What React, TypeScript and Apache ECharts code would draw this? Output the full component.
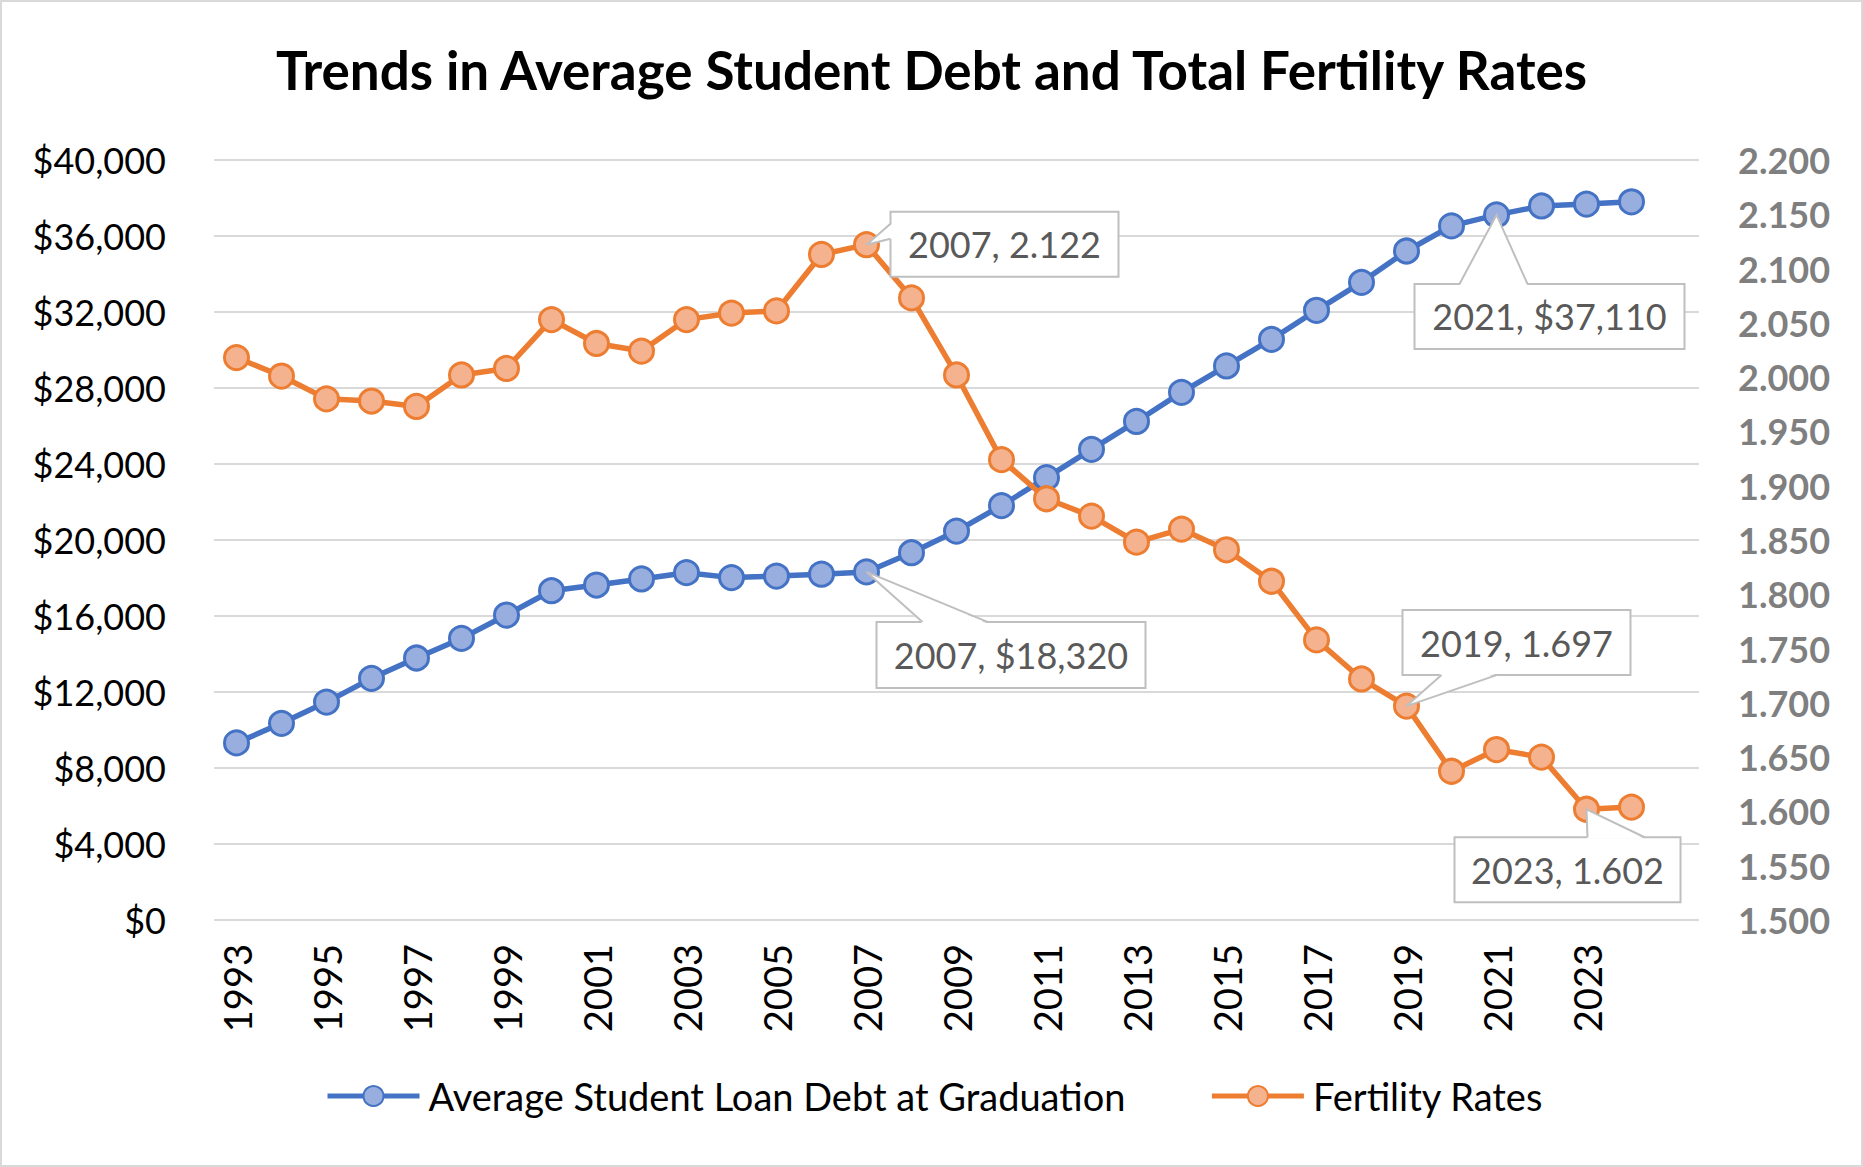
import React, { useEffect, useRef } from "react";
import * as echarts from "echarts";

const years = [
  1993, 1994, 1995, 1996, 1997, 1998, 1999, 2000, 2001, 2002, 2003, 2004, 2005, 2006, 2007, 2008,
  2009, 2010, 2011, 2012, 2013, 2014, 2015, 2016, 2017, 2018, 2019, 2020, 2021, 2022, 2023, 2024,
];

const debt = [
  9320, 10350, 11470, 12720, 13790, 14820, 16050, 17330, 17630, 17950, 18280, 18020, 18100, 18200,
  18320, 19330, 20470, 21810, 23280, 24770, 26240, 27770, 29160, 30560, 32090, 33560, 35210, 36530,
  37110, 37580, 37680, 37800,
];

const fertility = [
  2.018, 2.001, 1.98, 1.978, 1.973, 2.002, 2.008, 2.053, 2.031, 2.024, 2.053, 2.059, 2.061, 2.113,
  2.122, 2.073, 2.002, 1.924, 1.888, 1.872, 1.848, 1.86, 1.841, 1.812, 1.758, 1.722, 1.697, 1.637,
  1.657, 1.65, 1.602, 1.604,
];

const debtTicks = { min: 0, max: 40000, interval: 4000 };
const fertTicks = { min: 1.5, max: 2.2, interval: 0.05 };

const debtLabelYears = [2007, 2021];
const fertLabelYears = [2007, 2019, 2023];

const TITLE = "Trends in Average Student Debt and Total Fertility Rates";
const DEBT_NAME = "Average Student Loan Debt at Graduation";
const FERT_NAME = "Fertility Rates";

// callout box layout, relative to the labelled point (pixels)
const calloutLayout: Record<string, any> = {
  "debt-2007": { bx: 10, by: 50, w: 269, h: 66, side: "top", a: 56, b: 121 },
  "debt-2021": { bx: -82, by: 69, w: 270, h: 65, side: "top", a: -37, b: 31 },
  "fert-2007": { bx: 24, by: -33, w: 228, h: 65, side: "left", a: -21, b: -6 },
  "fert-2019": { bx: -4, by: -96, w: 228, h: 65, side: "bottom", a: 35, b: 90 },
  "fert-2023": { bx: -132, by: 28, w: 226, h: 65, side: "top", a: 1, b: 58 },
};

const FONT = "Lato, 'Open Sans', sans-serif";

const fmtMoney = (v: number) => "$" + v.toLocaleString("en-US");

function calloutSeries(key: string, yAxisIndex: number, labelYears: number[], values: number[], fmt: (v: number) => string) {
  const data = labelYears.map((y) => {
    const i = years.indexOf(y);
    return [i, values[i], y];
  });
  return {
    type: "custom",
    name: key + "-callouts",
    yAxisIndex,
    z: 10,
    clip: false,
    silent: true,
    data,
    renderItem: (params: any, api: any) => {
      const idx = api.value(0);
      const val = api.value(1);
      const yr = api.value(2);
      const p = api.coord([idx, val]);
      const L = calloutLayout[key + "-" + yr];
      const x0 = p[0] + L.bx;
      const y0 = p[1] + L.by;
      let b1: number[], b2: number[], c1: number[], c2: number[];
      if (L.side === "top") {
        b1 = [p[0] + L.a, y0];
        b2 = [p[0] + L.b, y0];
        c1 = [b1[0], y0 + 1.5];
        c2 = [b2[0], y0 + 1.5];
      } else if (L.side === "bottom") {
        b1 = [p[0] + L.a, y0 + L.h];
        b2 = [p[0] + L.b, y0 + L.h];
        c1 = [b1[0], y0 + L.h - 1.5];
        c2 = [b2[0], y0 + L.h - 1.5];
      } else {
        b1 = [x0, p[1] + L.a];
        b2 = [x0, p[1] + L.b];
        c1 = [x0 + 1.5, b1[1]];
        c2 = [x0 + 1.5, b2[1]];
      }
      return {
        type: "group",
        children: [
          {
            type: "rect",
            shape: { x: x0, y: y0, width: L.w, height: L.h },
            style: { fill: "#ffffff", stroke: "#bfbfbf", lineWidth: 2 },
          },
          {
            type: "polygon",
            shape: { points: [p, c1, c2] },
            style: { fill: "#ffffff", stroke: null },
          },
          {
            type: "polyline",
            shape: { points: [b1, p, b2] },
            style: { fill: null, stroke: "#bfbfbf", lineWidth: 2 },
          },
          {
            type: "text",
            style: {
              text: yr + ", " + fmt(val),
              x: x0 + L.w / 2,
              y: y0 + L.h / 2,
              align: "center",
              verticalAlign: "middle",
              fill: "#595959",
              fontSize: 36,
              fontFamily: FONT,
            },
          },
        ],
      };
    },
  };
}

export default function App() {
  const ref = useRef<HTMLDivElement>(null);
  useEffect(() => {
    document.body.style.margin = "0";
    if (!ref.current) return;
    const chart = echarts.init(ref.current, undefined, { renderer: "svg" });
    const option: any = {
      animation: false,
      backgroundColor: "#ffffff",
      textStyle: { fontFamily: FONT },
      title: {
        text: TITLE,
        left: "center",
        top: 38,
        textStyle: { fontSize: 53, fontWeight: "bold", color: "#000000", fontFamily: FONT },
      },
      graphic: [
        {
          type: "rect",
          shape: { x: 1, y: 1, width: 1861, height: 1165 },
          style: { fill: null, stroke: "#d9d9d9", lineWidth: 2 },
          silent: true,
        },
      ],
      legend: {
        data: [DEBT_NAME, FERT_NAME],
        left: 320,
        top: 1072,
        itemWidth: 92,
        itemHeight: 25,
        itemGap: 84,
        lineStyle: { width: 5 },
        textStyle: { fontSize: 38, color: "#000000", fontFamily: FONT, padding: [0, 0, 0, 4] },
      },
      grid: { left: 214, right: 164, top: 160, bottom: 247, containLabel: false },
      xAxis: {
        type: "category",
        boundaryGap: true,
        data: [...years.map(String), ""],
        axisLine: { show: false },
        axisTick: { show: false },
        splitLine: { show: false },
        axisLabel: {
          rotate: 90,
          interval: 1,
          margin: 24,
          fontSize: 38,
          color: "#000000",
          fontFamily: FONT,
        },
      },
      yAxis: [
        {
          type: "value",
          ...debtTicks,
          axisLine: { show: false },
          axisTick: { show: false },
          splitLine: { show: true, lineStyle: { color: "#d9d9d9", width: 2 } },
          axisLabel: {
            formatter: (v: number) => fmtMoney(v),
            margin: 48,
            fontSize: 36,
            color: "#000000",
            fontFamily: FONT,
          },
        },
        {
          type: "value",
          ...fertTicks,
          position: "right",
          axisLine: { show: false },
          axisTick: { show: false },
          splitLine: { show: false },
          axisLabel: {
            formatter: (v: number) => v.toFixed(3),
            margin: 39,
            fontSize: 36,
            fontWeight: "bold",
            color: "#7f7f7f",
            fontFamily: FONT,
          },
        },
      ],
      series: [
        {
          name: DEBT_NAME,
          type: "line",
          yAxisIndex: 0,
          data: debt,
          symbol: "circle",
          symbolSize: 24,
          itemStyle: { color: "#98aedf", borderColor: "#4472c4", borderWidth: 3 },
          lineStyle: { color: "#4472c4", width: 5.5 },
          emphasis: { disabled: true },
        },
        {
          name: FERT_NAME,
          type: "line",
          yAxisIndex: 1,
          data: fertility,
          symbol: "circle",
          symbolSize: 24,
          itemStyle: { color: "#f4b28f", borderColor: "#ed7d31", borderWidth: 3 },
          lineStyle: { color: "#ed7d31", width: 5.5 },
          emphasis: { disabled: true },
        },
        calloutSeries("debt", 0, debtLabelYears, debt, fmtMoney),
        calloutSeries("fert", 1, fertLabelYears, fertility, (v) => v.toFixed(3)),
      ],
    };
    chart.setOption(option);
    return () => chart.dispose();
  }, []);
  return <div ref={ref} style={{ width: 1863, height: 1167 }} />;
}
